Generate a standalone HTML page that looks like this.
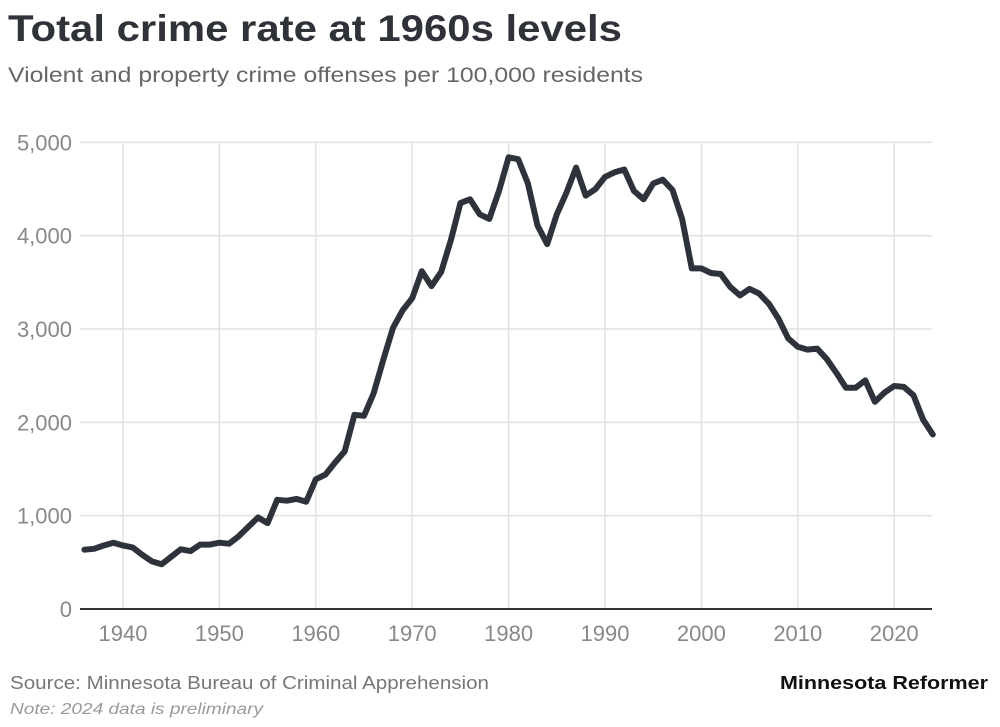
<!DOCTYPE html>
<html><head><meta charset="utf-8"><style>
body{margin:0;background:#fff;width:1000px;height:722px;overflow:hidden;font-family:"Liberation Sans",sans-serif}
</style></head><body>
<svg width="1000" height="722" viewBox="0 0 1000 722">
<text x="8" y="41" font-size="37" font-weight="bold" fill="#2f3238" textLength="614" lengthAdjust="spacingAndGlyphs">Total crime rate at 1960s levels</text>
<text x="8" y="82" font-size="21" fill="#666" textLength="635" lengthAdjust="spacingAndGlyphs">Violent and property crime offenses per 100,000 residents</text>
<g id="grid"></g>
<g id="axes"></g>
<path id="line" fill="none" stroke="#2e333b" stroke-width="6" stroke-linejoin="round" stroke-linecap="round"/>
<text x="10" y="689" font-size="18" fill="#777" textLength="479" lengthAdjust="spacingAndGlyphs">Source: Minnesota Bureau of Criminal Apprehension</text>
<text x="10" y="714" font-size="16" font-style="italic" fill="#999" textLength="253" lengthAdjust="spacingAndGlyphs">Note: 2024 data is preliminary</text>
<text x="780" y="689" font-size="18" font-weight="bold" fill="#111" textLength="208" lengthAdjust="spacingAndGlyphs">Minnesota Reformer</text>
</svg>
<script>
const years=[];for(let y=1936;y<=2024;y++)years.push(y);
const rates=[635,645,680,710,680,660,580,510,480,560,640,620,690,690,710,700,780,880,980,920,1170,1160,1180,1150,1390,1440,1570,1690,2080,2070,2310,2670,3010,3200,3330,3620,3460,3610,3950,4350,4390,4230,4180,4480,4840,4820,4560,4110,3910,4230,4460,4730,4430,4500,4630,4680,4710,4480,4390,4560,4600,4490,4180,3650,3650,3600,3590,3450,3360,3430,3380,3270,3110,2900,2810,2780,2790,2680,2530,2370,2370,2450,2220,2320,2390,2380,2290,2030,1870];
const yTicks=[0,1000,2000,3000,4000,5000];
const xTicks=[1940,1950,1960,1970,1980,1990,2000,2010,2020];
const xS=y=>123+(y-1940)*9.64;
const yS=v=>609-v*0.09332;
const ns="http://www.w3.org/2000/svg";
const grid=document.getElementById('grid'),axes=document.getElementById('axes');
function mk(tag,attrs,parent){const e=document.createElementNS(ns,tag);for(const k in attrs)e.setAttribute(k,attrs[k]);parent.appendChild(e);return e;}
yTicks.forEach(v=>{
 if(v>0){const l=mk('line',{x1:80,x2:932,y1:yS(v),y2:yS(v),stroke:'#e2e2e2','stroke-width':1.5},grid);
 
 }
 const t=mk('text',{x:72,y:yS(v)+8,'font-size':22,fill:'#888','text-anchor':'end'},axes);
 t.textContent=v.toLocaleString('en-US');
 
 
});
xTicks.forEach(y=>{
 const l=mk('line',{x1:xS(y),x2:xS(y),y1:143,y2:609,stroke:'#e2e2e2','stroke-width':1.5},grid);
 
 
 const t=mk('text',{x:xS(y),y:641,'font-size':22,fill:'#888','text-anchor':'middle'},axes);
 t.textContent=y;
 
 
});
const base=mk('line',{x1:80,x2:932,y1:609,y2:609,stroke:'#333','stroke-width':2},axes);


document.getElementById('line').setAttribute('d',years.map((y,i)=>(i?'L':'M')+xS(y).toFixed(1)+','+yS(rates[i]).toFixed(1)).join(''));
</script>
</body></html>
